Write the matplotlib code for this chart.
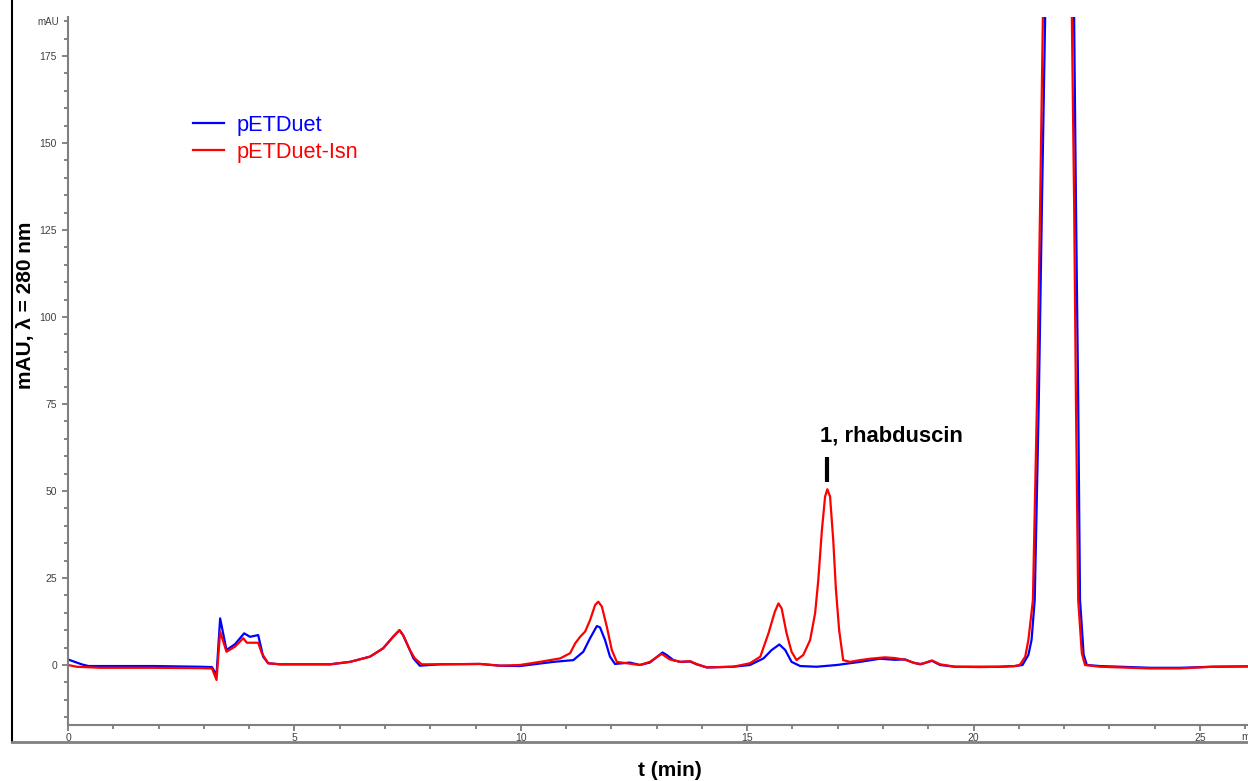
import matplotlib.pyplot as plt
from matplotlib.ticker import MultipleLocator

plt.rcParams['font.family'] = ['Liberation Sans', 'DejaVu Sans']

# retention time (min) and absorbance (mAU)
red_t = [0, 0.19, 0.71, 1.81, 2.92, 3.18, 3.28, 3.36, 3.50, 3.69, 3.87, 3.95, 4.20, 4.28, 4.42,
         4.68, 5.79, 6.23, 6.67, 6.96, 7.18, 7.32, 7.40, 7.55, 7.66, 7.81, 8.22, 9.10, 9.54,
         9.98, 10.42, 10.87, 11.09, 11.20, 11.31, 11.42, 11.53, 11.64, 11.71, 11.79, 11.90,
         12.01, 12.12, 12.34, 12.63, 12.85, 13.11, 13.29, 13.52, 13.74, 13.88, 14.11, 14.69,
         15.06, 15.29, 15.47, 15.61, 15.69, 15.76, 15.87, 15.98, 16.09, 16.24, 16.39, 16.50,
         16.57, 16.65, 16.72, 16.77, 16.83, 16.90, 16.96, 17.03, 17.12, 17.27, 17.49, 17.71,
         18.04, 18.26, 18.49, 18.71, 18.86, 19.08, 19.26, 19.59, 20.14, 20.58, 20.91, 21.02,
         21.14, 21.21, 21.26, 21.31, 21.40, 21.47, 21.53, 21.69, 21.86, 22.04, 22.17, 22.22,
         22.26, 22.31, 22.35, 22.39, 22.46, 22.79, 23.90, 24.56, 25.27, 26.06]
red_v = [0.0, -0.5, -0.8, -0.8, -0.9, -1.0, -4.3, 9.6, 3.8, 5.3, 7.7, 6.4, 6.4, 3.4, 0.5,
         0.2, 0.2, 0.9, 2.4, 4.8, 8.1, 10.0, 8.6, 4.3, 1.9, 0.2, 0.2, 0.3, -0.2,
         0.0, 0.9, 1.9, 3.4, 6.2, 8.1, 9.6, 12.9, 17.2, 18.2, 16.8, 11.0,
         4.3, 0.9, 0.5, 0.0, 0.9, 3.2, 1.6, 0.9, 1.1, 0.3, -0.7, -0.5,
         0.5, 2.4, 9.1, 15.3, 17.7, 16.3, 9.1, 3.8, 1.4, 2.9, 7.2, 14.9,
         24.4, 38.8, 48.4, 50.5, 48.4, 35.9, 21.6, 10.1, 1.4, 0.9, 1.4, 1.8,
         2.2, 2.0, 1.5, 0.5, 0.3, 1.3, 0.2, -0.5, -0.6, -0.5, -0.3, 0.0,
         2.4, 7.2, 12.9, 18.7, 76, 133, 186, 400, 600, 400, 186, 133,
         76, 18.7, 11.0, 3.4, 0.0, -0.5, -1.0, -1.0, -0.5, -0.4]

blue_t = [0, 0.15, 0.30, 0.45, 1.92, 2.92, 3.18, 3.28, 3.36, 3.50, 3.69, 3.89, 4.02, 4.20,
          4.31, 4.42, 4.68, 5.79, 6.23, 6.67, 6.96, 7.18, 7.32, 7.40, 7.55, 7.63, 7.77, 8.22,
          9.10, 9.54, 9.98, 10.72, 11.16, 11.38, 11.53, 11.68, 11.75, 11.86, 11.97, 12.08,
          12.41, 12.63, 12.85, 13.13, 13.22, 13.37, 13.52, 13.74, 13.88, 14.11, 14.69, 15.06,
          15.36, 15.54, 15.71, 15.84, 15.98, 16.17, 16.53, 16.98, 17.49, 17.93, 18.26, 18.49,
          18.64, 18.82, 19.08, 19.26, 19.59, 20.58, 20.91, 21.08, 21.21, 21.28, 21.35, 21.44,
          21.51, 21.58, 21.73, 21.91, 22.08, 22.22, 22.26, 22.31, 22.35, 22.39, 22.43, 22.50,
          22.79, 23.90, 24.56, 25.27, 26.06]
blue_v = [1.6, 0.9, 0.2, -0.3, -0.3, -0.5, -0.6, -2.9, 13.4, 4.3, 6.0, 9.1, 8.1, 8.6,
          2.4, 0.5, 0.2, 0.2, 0.9, 2.4, 4.8, 8.1, 10.0, 8.6, 4.3, 1.9, -0.2, 0.2,
          0.3, -0.2, -0.3, 0.9, 1.4, 3.8, 7.7, 11.2, 10.8, 7.2, 2.4, 0.3,
          0.7, 0.0, 0.7, 3.6, 2.9, 1.4, 0.9, 1.0, 0.2, -0.7, -0.5, 0.0,
          1.9, 4.3, 5.9, 4.3, 0.9, -0.3, -0.5, 0.0, 0.9, 1.8, 1.5, 1.6,
          0.8, 0.2, 1.2, 0.0, -0.5, -0.5, -0.3, 0.0, 2.9, 7.2, 18.7, 76,
          133, 186, 400, 600, 400, 186, 133, 76, 18.7, 11.0, 3.0, 0.0,
          -0.3, -0.8, -0.8, -0.5, -0.4]

peak_label = '1, rhabduscin'
peak_t = 16.76
peak_bar = [52.6, 59.8]

W, H = 1248, 781
fig = plt.figure(figsize=(W / 100, H / 100), dpi=100)

# outer frame (left + bottom lines)
frame = fig.add_axes([12 / W, 39 / H, 1 - 12 / W, 1 - 39 / H])
frame.patch.set_visible(False)
frame.set_xticks([])
frame.set_yticks([])
frame.spines['top'].set_visible(False)
frame.spines['right'].set_visible(False)
frame.spines['left'].set_color('black')
frame.spines['left'].set_linewidth(1.5)
frame.spines['bottom'].set_color('#808080')
frame.spines['bottom'].set_linewidth(2)

ax = fig.add_axes([68 / W, 56 / H, 1 - 68 / W, (725 - 17) / H])
ax.patch.set_visible(False)
ax.plot(blue_t, blue_v, color='#0000ff', lw=1.6, label='pETDuet')
ax.plot(red_t, red_v, color='#ff0000', lw=1.6, label='pETDuet-Isn')

ax.set_xlim(0, (W - 68) / 45.28)
ax.set_ylim(-60 / 3.48, (665 - 17) / 3.48)

ax.xaxis.set_major_locator(MultipleLocator(5))
ax.xaxis.set_minor_locator(MultipleLocator(1))
ax.yaxis.set_major_locator(MultipleLocator(25))
ax.yaxis.set_minor_locator(MultipleLocator(5))
ax.tick_params(which='both', direction='out', colors='#707070', labelcolor='#404040',
               labelsize=7.5, width=1.2)
ax.tick_params(which='major', length=4)
ax.tick_params(which='minor', length=3)
ax.tick_params(axis='x', pad=2)
ax.tick_params(axis='y', pad=4)
for s in ['top', 'right']:
    ax.spines[s].set_visible(False)
for s in ['left', 'bottom']:
    ax.spines[s].set_color('#808080')
    ax.spines[s].set_linewidth(1.5)

ax.plot([peak_t, peak_t], peak_bar, color='black', lw=3, solid_capstyle='butt')
ax.text(peak_t - 0.15, 65.8, peak_label, fontsize=15.8, fontweight='bold', ha='left', va='center')

leg = ax.legend(loc='upper left', bbox_to_anchor=(193 / W, 1 - 115 / H),
                bbox_transform=fig.transFigure, frameon=False, fontsize=15.7,
                handlelength=1.4, handletextpad=0.62, labelspacing=0.28,
                borderpad=0, borderaxespad=0, labelcolor='linecolor')

fig.text(48 / W, 1 - 22 / H, 'mAU', fontsize=7, color='#404040', ha='center', va='center')
fig.text(1241 / W, 1 - 737 / H, 'm', fontsize=7.5, color='#404040', ha='left', va='center')
fig.text(25 / W, 1 - 305 / H, 'mAU, \u03bb = 280 nm', fontsize=15, fontweight='bold',
         rotation=90, ha='center', va='center')
fig.text(670 / W, 1 - 770 / H, 't (min)', fontsize=15, fontweight='bold',
         ha='center', va='center')

fig.savefig('out.png', dpi=100)
